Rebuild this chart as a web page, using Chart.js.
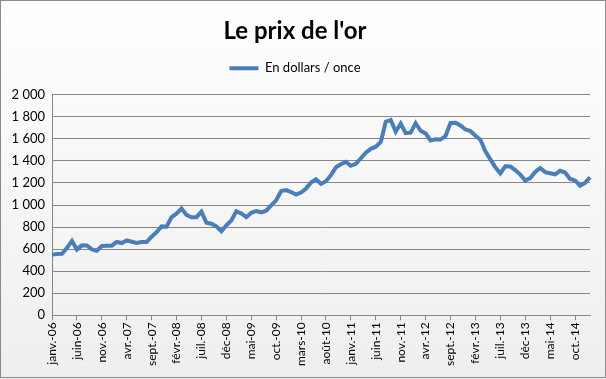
<!DOCTYPE html>
<html>
<head>
<meta charset="utf-8">
<script src="https://cdn.jsdelivr.net/npm/chart.js@4/dist/chart.umd.min.js"></script>
<style>
html,body{margin:0;padding:0;background:#fff;}
#wrap{position:relative;width:606px;height:379px;}
canvas{display:block;}
</style>
</head>
<body>
<div id="wrap"><canvas id="c" width="606" height="379"></canvas></div>
<script>
const months = ['janv.','févr.','mars','avr.','mai','juin','juil.','août','sept.','oct.','nov.','déc.'];
const years = ['06','07','08','09','10','11','12','13','14','15'];
const categories = [];
for (const y of years) for (const m of months) categories.push((m === 'déc.' ? 'déc' : m) + '-' + y);
categories.length = 109; // janv.-06 .. janv.-15

const prices = [
  550, 555, 557, 611, 675, 596, 634, 633, 598, 586, 628, 630,
  631, 665, 655, 679, 667, 656, 665, 665, 713, 755, 806, 803,
  890, 922, 968, 910, 889, 890, 940, 839, 830, 807, 761, 816,
  859, 943, 924, 890, 929, 946, 934, 949, 997, 1043, 1127, 1135,
  1118, 1095, 1113, 1149, 1205, 1233, 1193, 1216, 1271, 1342, 1370, 1391,
  1356, 1373, 1424, 1474, 1510, 1529, 1573, 1756, 1772, 1665, 1739, 1652,
  1656, 1743, 1674, 1650, 1586, 1597, 1594, 1626, 1745, 1747, 1722, 1685,
  1672, 1628, 1593, 1488, 1414, 1343, 1286, 1352, 1349, 1317, 1276, 1222,
  1244, 1300, 1336, 1299, 1288, 1279, 1311, 1295, 1237, 1223, 1175, 1201,
  1252
];
const yTicks = [0, 200, 400, 600, 800, 1000, 1200, 1400, 1600, 1800, 2000];
const seriesName = 'En dollars / once';
const titleText = "Le prix de l'or";

const bgPlugin = {
  id: 'bg',
  afterInit(chart) {
    const lg = chart.legend;
    if (lg && !lg._patched) {
      const orig = lg.fit;
      lg.fit = function () { orig.call(this); this.height += 10; };
      lg._patched = true;
    }
  },
  beforeDraw(chart) {
    const ctx = chart.ctx;
    const g = ctx.createLinearGradient(0, 0, 0, chart.height);
    g.addColorStop(0, '#ffffff');
    g.addColorStop(1, '#eeeeee');
    ctx.save();
    ctx.fillStyle = g;
    ctx.fillRect(0, 0, chart.width, chart.height);
    ctx.strokeStyle = '#8a8a8a';
    ctx.lineWidth = 1;
    ctx.strokeRect(0.5, 0.5, chart.width - 1, chart.height - 2);
    ctx.restore();
  }
};

const fmt = v => String(v).replace(/\B(?=(\d{3})+(?!\d))/g, ' ');

new Chart(document.getElementById('c'), {
  type: 'line',
  data: {
    labels: categories,
    datasets: [{
      label: seriesName,
      data: prices,
      borderColor: '#4a7ebb',
      backgroundColor: '#4a7ebb',
      borderWidth: 4,
      pointRadius: 0,
      tension: 0,
      fill: false
    }]
  },
  plugins: [bgPlugin],
  options: {
    responsive: false,
    animation: false,
    layout: { padding: { left: 0, right: 16, top: 13, bottom: 11 } },
    plugins: {
      title: {
        display: true,
        text: titleText,
        color: '#000',
        font: { family: 'Lato', size: 24, weight: 'bold' },
        padding: { top: 4, bottom: 6 }
      },
      legend: {
        display: true,
        labels: {
          color: '#000',
          font: { family: 'Lato', size: 13 },
          boxWidth: 29,
          boxHeight: 4,
          padding: 10,
          generateLabels(chart) {
            const ds = chart.data.datasets[0];
            return [{ text: ds.label, fillStyle: ds.borderColor, strokeStyle: ds.borderColor, lineWidth: 0, datasetIndex: 0, fontColor: '#000' }];
          }
        }
      },
      tooltip: { enabled: false }
    },
    scales: {
      x: {
        type: 'category',
        offset: false,
        border: { color: '#868686', width: 1 },
        grid: { display: true, drawOnChartArea: false, color: '#868686', tickLength: 5 },
        ticks: {
          autoSkip: false,
          minRotation: 90,
          maxRotation: 90,
          padding: 2,
          color: '#000',
          font: { family: 'Lato', size: 12 },
          callback(v, i) { return i % 5 === 0 ? categories[i] : null; }
        }
      },
      y: {
        min: 0,
        max: 2000,
        afterFit(scale) { scale.width = 52; },
        afterBuildTicks(scale) { scale.ticks = yTicks.map(v => ({ value: v })); },
        border: { color: '#868686', width: 1 },
        grid: { color: '#868686', drawTicks: false },
        ticks: {
          padding: 7,
          color: '#000',
          font: { family: 'Lato', size: 13 },
          callback(v) { return fmt(v); }
        }
      }
    }
  }
});
</script>
</body>
</html>
